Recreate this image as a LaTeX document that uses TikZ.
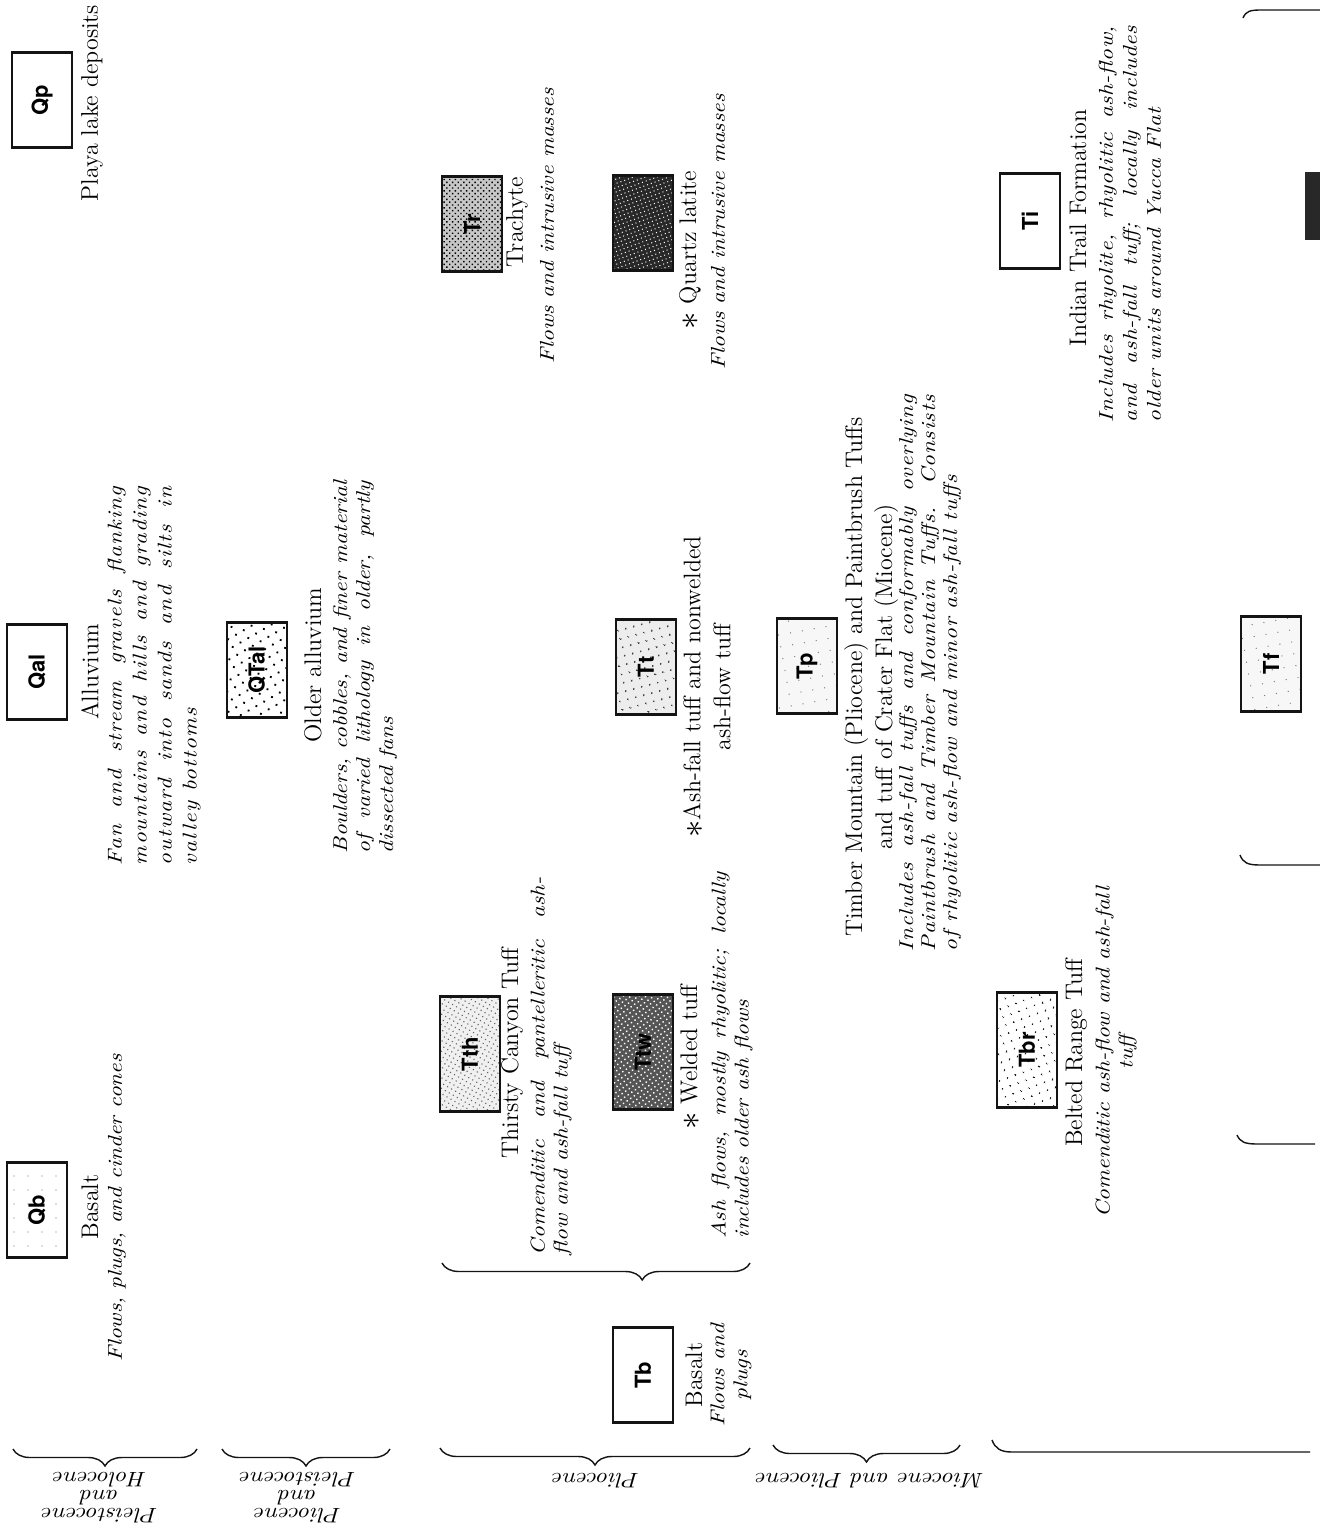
\documentclass[tikz,border=0pt]{standalone}
\usepackage{fontspec}
\usepackage{tikz}
\usetikzlibrary{patterns.meta,decorations.pathreplacing}
\newfontfamily\labelsans{TeX Gyre Heros}
\newfontfamily\notefont{lmroman10}[Extension=.otf,UprightFont=*-regular,ItalicFont=*-italic,FakeStretch=1.15]
\newfontfamily\alluvfont{lmroman10}[Extension=.otf,UprightFont=*-regular,ItalicFont=*-italic,FakeStretch=1.15,LetterSpace=6]
\newfontfamily\tuffnotefont{lmroman10}[Extension=.otf,UprightFont=*-regular,ItalicFont=*-italic,FakeStretch=1.15,LetterSpace=4]
\newfontfamily\trailfont{lmroman10}[Extension=.otf,UprightFont=*-regular,ItalicFont=*-italic,FakeStretch=1.15,LetterSpace=3]
\definecolor{legendInk}{RGB}{20,20,20}
\definecolor{latiteDark}{RGB}{40,40,40}
\definecolor{weldedDark}{RGB}{85,85,85}
\newcommand{\unitstar}{\raisebox{-0.25ex}{\LARGE$\ast$}}

\tikzset{
  unitbox/.style={draw=legendInk,line width=1.1pt,rotate=90,minimum width=47.5pt,minimum height=30pt,inner sep=0pt,font=\labelsans\bfseries\fontsize{11}{12}\selectfont},
  longbox/.style={unitbox,minimum width=57.5pt},
  unitname/.style={rotate=90,inner sep=0pt,align=center,font=\fontsize{12}{15}\selectfont},
  unitnote/.style={rotate=90,inner sep=0pt,align=justify,font=\notefont\itshape\fontsize{10}{11.5}\selectfont},
  centernote/.style={unitnote,align=center},
  agelabel/.style={rotate=180,inner sep=0pt,align=center,font=\notefont\itshape\fontsize{10.5}{9}\selectfont},
  agebrace/.style={decorate,decoration={brace,amplitude=8.5pt},line width=0.7pt,legendInk},
  sparsedots/.style={pattern={Dots[distance=7pt,radius=0.35pt]},pattern color=black!55},
  graveldots/.style={pattern={Dots[distance=4.5pt,radius=0.65pt,angle=30]}},
  trachytefill/.style={preaction={fill=black!22},pattern={Dots[distance=2pt,radius=0.5pt,angle=45]}},
  latitefill/.style={preaction={fill=latiteDark},pattern={Dots[distance=2pt,radius=0.35pt,angle=20]},pattern color=white},
  thirstyfill/.style={preaction={fill=black!6},pattern={Dots[distance=2.3pt,radius=0.4pt,angle=60]},pattern color=black!60},
  weldedfill/.style={preaction={fill=weldedDark},pattern={Dots[distance=2.2pt,radius=0.5pt,angle=35]},pattern color=white},
  speckfill/.style={preaction={fill=black!7},pattern={Dots[distance=4pt,radius=0.5pt,angle=15]}},
  faintfill/.style={preaction={fill=black!3},pattern={Dots[distance=6pt,radius=0.35pt,angle=10]},pattern color=black!50},
  rangedots/.style={pattern={Dots[distance=4pt,radius=0.5pt,angle=20]}}
}

\begin{document}
\begin{tikzpicture}[x=0.5pt,y=-0.5pt]
  \fill[white] (0,0) rectangle (1320,1540);
  \useasboundingbox (0,0) rectangle (1320,1540);

  % Quaternary units
  \node[unitbox] (qp) at (42,100) {Qp};
  \node[unitname] (qpname) at (92,103) {Playa lake deposits};

  \node[unitbox] (qal) at (37,672) {Qal};
  \node[unitname] (qalname) at (90,672) {Alluvium};
  \node[unitnote,font=\alluvfont\itshape\fontsize{10}{12.5}\selectfont,text width=189pt] (qalnote) at (154,676) {\hangindent=10pt\hangafter=1 Fan and stream gravels flanking\linebreak mountains and hills and grading\linebreak outward into sands and silts in\linebreak valley bottoms};

  \node[unitbox,graveldots] (qtal) at (257,670) {QTal};
  \node[unitname] (qtalname) at (313,665) {Older alluvium};
  \node[unitnote,text width=186pt] (qtalnote) at (365,667) {\hangindent=9pt\hangafter=1 Boulders, cobbles, and finer material\linebreak of varied lithology in older, partly\linebreak dissected fans};

  \node[unitbox,sparsedots] (qb) at (37,1210) {Qb};
  \node[unitname] (qbname) at (90,1207) {Basalt};
  \node[unitnote,align=center] (qbnote) at (117,1208) {Flows, plugs, and cinder cones};

  % Tertiary volcanic units
  \node[unitbox,trachytefill] (tr) at (472,224) {Tr};
  \node[unitname] (trname) at (517,222) {Trachyte};
  \node[unitnote,align=center] (trnote) at (547,226) {Flows and intrusive masses};

  \node[unitbox,latitefill] (tq) at (643,223) {};
  \node[unitname] (tqname) at (690,250) {\unitstar\ Quartz latite};
  \node[unitnote,align=center] (tqnote) at (718,232) {Flows and intrusive masses};

  \node[unitbox,speckfill] (tt) at (646,667) {Tt};
  \node[unitname] (ttname) at (707,687) {\unitstar Ash-fall tuff and nonwelded\\ash-flow tuff};

  \node[unitbox,faintfill] (tp) at (807,666) {Tp};
  \node[unitname] (tpname) at (871,677) {Timber Mountain (Pliocene) and Paintbrush Tuffs\\and tuff of Crater Flat (Miocene)};
  \node[unitnote,font=\tuffnotefont\itshape\fontsize{10}{11}\selectfont,text width=278pt] (tpnote) at (930,673) {\hangindent=12.5pt\hangafter=1 Includes ash-fall tuffs and conformably overlying\linebreak Paintbrush and Timber Mountain Tuffs. Consists\linebreak of rhyolitic ash-flow and minor ash-fall tuffs};

  \node[unitbox] (ti) at (1030,221) {Ti};
  \node[unitname] (tiname) at (1078,228) {Indian Trail Formation};
  \node[unitnote,font=\trailfont\itshape\fontsize{10}{12}\selectfont,text width=198pt] (tinote) at (1130,224) {\hangindent=12.5pt\hangafter=1 Includes rhyolite, rhyolitic ash-flow,\linebreak and ash-fall tuff; locally includes\linebreak older units around Yucca Flat};

  \node[longbox,thirstyfill] (tth) at (470,1054) {Tth};
  \node[unitname] (tthname) at (512,1053) {Thirsty Canyon Tuff};
  \node[unitnote,text width=189pt] (tthnote) at (551,1066) {\hangindent=39pt\hangafter=1 Comenditic and pantelleritic ash-\linebreak flow and ash-fall tuff};

  \node[longbox,weldedfill] (ttw) at (643,1052) {Ttw};
  \node[unitname] (ttwname) at (690,1057) {\unitstar\ Welded tuff};
  \node[unitnote,text width=183pt] (ttwnote) at (732,1055) {\hangindent=28.5pt\hangafter=1 Ash flows, mostly rhyolitic; locally\linebreak includes older ash flows};

  \node[unitbox] (tb) at (643,1375) {Tb};
  \node[unitname] (tbname) at (694,1375) {Basalt};
  \node[centernote] (tbnote) at (731,1375) {Flows and\\plugs};

  \node[longbox,rangedots] (tbr) at (1027,1050) {Tbr};
  \node[unitname] (tbrname) at (1076,1053) {Belted Range Tuff};
  \node[centernote] (tbrnote) at (1116,1052) {Comenditic ash-flow and ash-fall\\tuff};

  \node[unitbox,faintfill] (tf) at (1271,664) {Tf};
  \fill[latiteDark] (1305,172) rectangle (1320,240);

  % age braces
  \coordinate (holoR) at (197,1449);  \coordinate (holoL) at (13,1449);
  \coordinate (plioR) at (390,1449);  \coordinate (plioL) at (222,1449);
  \coordinate (plcR) at (750,1448);   \coordinate (plcL) at (440,1448);
  \coordinate (mioR) at (960,1445);   \coordinate (mioL) at (773,1445);
  \coordinate (grpR) at (750,1263);   \coordinate (grpL) at (442,1263);
  \draw[agebrace] (holoR) -- (holoL);
  \draw[agebrace] (plioR) -- (plioL);
  \draw[agebrace] (plcR) -- (plcL);
  \draw[agebrace] (mioR) -- (mioL);
  \draw[agebrace,decoration={aspect=0.35}] (grpR) -- (grpL);

  \node[agelabel] (holo) at (100,1498) {Pleistocene\\and\\Holocene};
  \node[agelabel] (plio) at (298,1498) {Pliocene\\and\\Pleistocene};
  \node[agelabel] (plc) at (596,1481) {Pliocene};
  \node[agelabel] (mio) at (870,1481) {Miocene and Pliocene};

  % brace ends cut by the page edge
  \coordinate (hookA) at (1243,18);   \coordinate (endA) at (1320,10);
  \coordinate (hookB) at (1240,855);  \coordinate (endB) at (1320,865);
  \coordinate (hookC) at (1237,1135); \coordinate (endC) at (1315,1144);
  \coordinate (hookD) at (992,1440);  \coordinate (endD) at (1310,1452);
  \draw[line width=0.7pt,legendInk] (hookA) .. controls (1246,11) and (1250,10) .. (1262,10) -- (endA);
  \draw[line width=0.7pt,legendInk] (hookB) .. controls (1243,863) and (1248,865) .. (1260,865) -- (endB);
  \draw[line width=0.7pt,legendInk] (hookC) .. controls (1240,1142) and (1245,1144) .. (1257,1144) -- (endC);
  \draw[line width=0.7pt,legendInk] (hookD) .. controls (995,1448) and (1000,1452) .. (1012,1452) -- (endD);
\end{tikzpicture}
\end{document}
